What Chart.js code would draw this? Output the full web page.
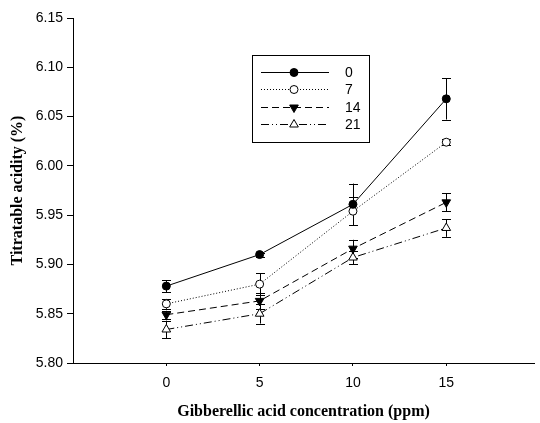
<!DOCTYPE html>
<html>
<head>
<meta charset="utf-8">
<script src="https://cdn.jsdelivr.net/npm/chart.js@4"></script>
<style>
  body { margin: 0; background: #fff; }
  canvas { display: block; }
</style>
</head>
<body>
<canvas id="chart" width="540" height="423"></canvas>
<script>
// Gibberellic acid concentration (ppm) on x, storage days as series
const concentrations = [0, 5, 10, 15];
const storageDays = ['0', '7', '14', '21'];
const yTicks = [5.80, 5.85, 5.90, 5.95, 6.00, 6.05, 6.10, 6.15];

const day0 = [5.878, 5.910, 5.961, 6.068];
const day7 = [5.860, 5.880, 5.954, 6.024];
const day14 = [5.849, 5.863, 5.916, 5.963];
const day21 = [5.834, 5.850, 5.907, 5.937];

const err0 = [0.006, 0.002, 0.021, 0.021];
const err7 = [0.005, 0.011, 0.014, 0.003];
const err14 = [0.004, 0.008, 0.009, 0.009];
const err21 = [0.009, 0.010, 0.007, 0.009];

const values = [day0, day7, day14, day21];
const errors = [err0, err7, err14, err21];

const styles = [
  { dash: [], pointStyle: 'circle', rotation: 0, fill: '#000', radius: 4 },
  { dash: [1, 2], pointStyle: 'circle', rotation: 0, fill: '#fff', radius: 4 },
  { dash: [7, 4], pointStyle: 'triangle', rotation: 180, fill: '#000', radius: 5 },
  { dash: [8, 3, 1, 3, 1, 3], pointStyle: 'triangle', rotation: 0, fill: '#fff', radius: 5 },
];

const datasets = storageDays.map((d, i) => ({
  label: d,
  data: concentrations.map((c, j) => ({ x: c, y: values[i][j] })),
  borderColor: '#000',
  borderWidth: 1,
  borderDash: styles[i].dash,
  pointStyle: styles[i].pointStyle,
  rotation: styles[i].rotation,
  pointRadius: styles[i].radius,
  pointBackgroundColor: styles[i].fill,
  pointBorderColor: '#000',
  pointBorderWidth: 1,
  tension: 0,
}));

// error bars behind the markers
const errorBars = {
  id: 'errorBars',
  beforeDatasetsDraw(chart) {
    const ctx = chart.ctx;
    const xs = chart.scales.x, ys = chart.scales.y;
    ctx.save();
    ctx.strokeStyle = '#000';
    ctx.lineWidth = 1;
    ctx.setLineDash([]);
    values.forEach((series, i) => {
      series.forEach((v, j) => {
        const x = Math.round(xs.getPixelForValue(concentrations[j])) + 0.5;
        const top = ys.getPixelForValue(v + errors[i][j]);
        const bot = ys.getPixelForValue(v - errors[i][j]);
        ctx.beginPath();
        ctx.moveTo(x, top); ctx.lineTo(x, bot);
        ctx.moveTo(x - 4.5, Math.round(top) + 0.5); ctx.lineTo(x + 4.5, Math.round(top) + 0.5);
        ctx.moveTo(x - 4.5, Math.round(bot) + 0.5); ctx.lineTo(x + 4.5, Math.round(bot) + 0.5);
        ctx.stroke();
      });
    });
    ctx.restore();
  }
};

// boxed legend inside the plot
const boxLegend = {
  id: 'boxLegend',
  afterDraw(chart) {
    const ctx = chart.ctx;
    ctx.save();
    ctx.strokeStyle = '#000';
    ctx.lineWidth = 1;
    ctx.strokeRect(252.5, 55.5, 117, 87);
    const rows = [72, 89, 107, 124];
    chart.data.datasets.forEach((ds, i) => {
      const y = rows[i] + 0.5;
      ctx.setLineDash(ds.borderDash);
      ctx.beginPath();
      ctx.moveTo(261, y); ctx.lineTo(329, y);
      ctx.stroke();
      ctx.setLineDash([]);
      ctx.fillStyle = ds.pointBackgroundColor;
      Chart.helpers.drawPoint(ctx, {
        pointStyle: ds.pointStyle, rotation: ds.rotation,
        radius: ds.pointRadius, borderWidth: 1
      }, 294, y);
      ctx.fillStyle = '#000';
      ctx.font = '14px "Liberation Sans", Arial, sans-serif';
      ctx.textBaseline = 'middle';
      ctx.fillText(ds.label, 345, y + 1);
    });
    ctx.restore();
  }
};

new Chart(document.getElementById('chart').getContext('2d'), {
  type: 'line',
  data: { datasets },
  options: {
    responsive: false,
    animation: false,
    layout: { padding: { top: 18, right: 0, left: 0, bottom: 0 } },
    plugins: {
      legend: { display: false },
      tooltip: { enabled: false },
    },
    scales: {
      x: {
        type: 'linear',
        min: -5,
        max: 19.7,
        afterFit: s => { s.height = 60; },
        afterBuildTicks: s => { s.ticks = concentrations.map(v => ({ value: v })); },
        grid: { drawOnChartArea: false, drawTicks: true, tickLength: 3, color: '#000' },
        border: { color: '#000', width: 1 },
        ticks: {
          color: '#000', padding: 9, maxRotation: 0,
          font: { family: '"Liberation Sans", Arial, sans-serif', size: 14 },
        },
        title: {
          display: true,
          text: 'Gibberellic acid concentration (ppm)',
          color: '#000',
          padding: { top: 2, bottom: 2 },
          font: { family: '"Liberation Serif", "Times New Roman", serif', size: 16, weight: 'bold' },
        },
      },
      y: {
        min: 5.80,
        max: 6.15,
        afterFit: s => { s.width = 73; },
        afterBuildTicks: s => { s.ticks = yTicks.map(v => ({ value: v })); },
        grid: { drawOnChartArea: false, drawTicks: true, tickLength: 6, color: '#000' },
        border: { color: '#000', width: 1 },
        ticks: {
          color: '#000', padding: 4,
          callback: v => Number(v).toFixed(2),
          font: { family: '"Liberation Sans", Arial, sans-serif', size: 14 },
        },
        title: {
          display: true,
          text: 'Titratable acidity (%)',
          color: '#000',
          padding: { top: 8, bottom: 8 },
          font: { family: '"Liberation Serif", "Times New Roman", serif', size: 16, weight: 'bold' },
        },
      },
    },
  },
  plugins: [errorBars, boxLegend],
});
</script>
</body>
</html>
